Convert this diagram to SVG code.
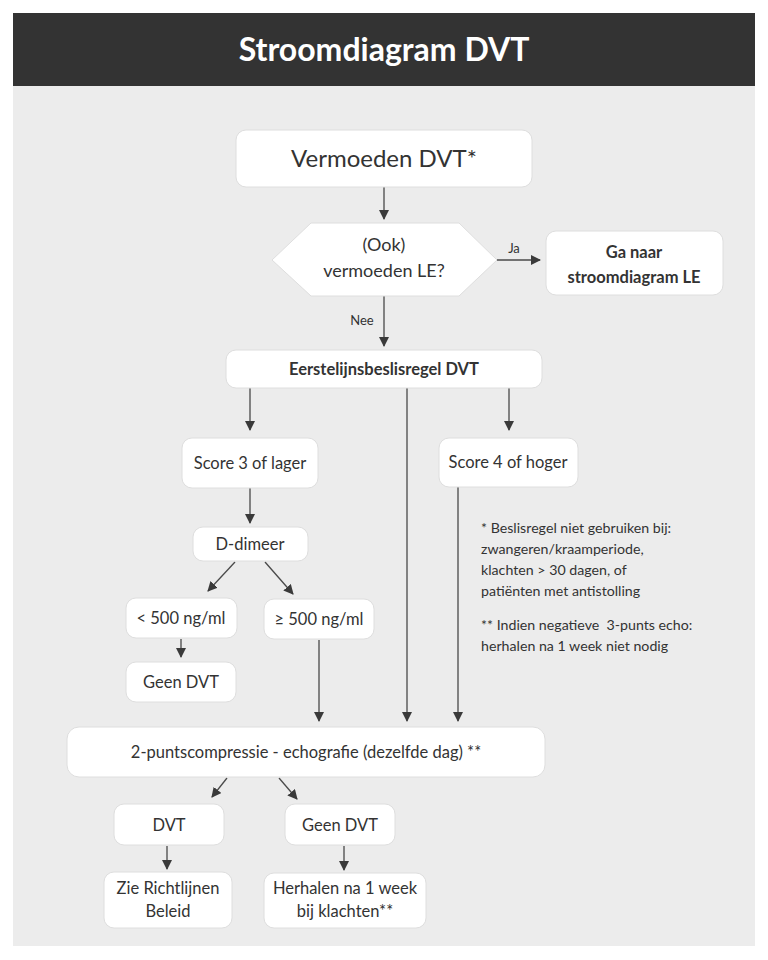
<svg xmlns="http://www.w3.org/2000/svg" width="768" height="960" viewBox="0 0 768 960">
<defs>
<marker id="ah" viewBox="0 0 10 10" refX="9" refY="5" markerWidth="10" markerHeight="10" markerUnits="userSpaceOnUse" orient="auto">
<path d="M0,0 L10,5 L0,10 z" fill="#3a3a3a"/>
</marker>
<style>
.box{fill:#ffffff;stroke:#dedede;stroke-width:1}
.t{font-family:Lato,"Open Sans","Liberation Sans",sans-serif;fill:#333333;text-anchor:middle}
.b{font-weight:bold}
.ln{stroke:#4a4a4a;stroke-width:1.3;fill:none}
.ar{stroke:#4a4a4a;stroke-width:1.3;fill:none;marker-end:url(#ah)}
.fn{font-family:Lato,"Open Sans","Liberation Sans",sans-serif;fill:#333333;font-size:14.2px;white-space:pre}
</style>
</defs>
<rect x="0" y="0" width="768" height="960" fill="#ffffff"/>
<rect x="13" y="86" width="742" height="860" fill="#ececec"/>
<g id="header">
<rect x="13" y="13" width="742" height="73" fill="#333333"/>
<text x="384" y="61" class="t b" style="fill:#ffffff;font-size:32px">Stroomdiagram DVT</text>
</g>
<g id="connectors">
<line class="ar" x1="384" y1="187" x2="384" y2="219"/>
<line class="ar" x1="497" y1="260" x2="540" y2="260"/>
<line class="ar" x1="384" y1="296" x2="384" y2="346"/>
<line class="ar" x1="250" y1="388" x2="250" y2="430"/>
<line class="ar" x1="509" y1="388" x2="509" y2="430"/>
<line class="ar" x1="407" y1="388" x2="407" y2="721"/>
<line class="ar" x1="250" y1="488" x2="250" y2="523"/>
<line class="ar" x1="235" y1="562" x2="208" y2="591"/>
<line class="ar" x1="265" y1="562" x2="293" y2="594"/>
<line class="ar" x1="181" y1="639" x2="181" y2="657"/>
<line class="ar" x1="319" y1="640" x2="319" y2="721"/>
<line class="ar" x1="458" y1="487" x2="458" y2="721"/>
<line class="ar" x1="227" y1="778" x2="212" y2="797"/>
<line class="ar" x1="279" y1="778" x2="297" y2="799"/>
<line class="ar" x1="167" y1="846" x2="167" y2="869"/>
<line class="ar" x1="344" y1="846" x2="344" y2="870"/>
<text x="514" y="253" class="t" style="font-size:13px">Ja</text>
<text x="362" y="325" class="t" style="font-size:13px">Nee</text>
</g>
<g id="n-vermoeden">
<rect class="box" x="236" y="130" width="296" height="57" rx="10"/>
<text x="384" y="167" class="t" style="font-size:24px">Vermoeden DVT*</text>
</g>
<g id="n-ook">
<polygon class="box" points="272,260 311,223 459,223 497,260 459,296 311,296"/>
<text x="384" y="251" class="t" style="font-size:18px">(Ook)</text>
<text x="384" y="277" class="t" style="font-size:18px">vermoeden LE?</text>
</g>
<g id="n-ganaar">
<rect class="box" x="546" y="231" width="177" height="64" rx="10"/>
<text x="634" y="258" class="t b" style="font-size:16.5px">Ga naar</text>
<text x="634" y="283" class="t b" style="font-size:16.5px">stroomdiagram LE</text>
</g>
<g id="n-eerste">
<rect class="box" x="226" y="350" width="316" height="38" rx="10"/>
<text x="384" y="375" class="t b" style="font-size:16.5px">Eerstelijnsbeslisregel DVT</text>
</g>
<g id="n-score3">
<rect class="box" x="182" y="438" width="136" height="50" rx="10"/>
<text x="250" y="469" class="t" style="font-size:16.5px">Score 3 of lager</text>
</g>
<g id="n-score4">
<rect class="box" x="439" y="438" width="139" height="49" rx="10"/>
<text x="508" y="468" class="t" style="font-size:16.5px">Score 4 of hoger</text>
</g>
<g id="n-ddimeer">
<rect class="box" x="193" y="527" width="115" height="34" rx="10"/>
<text x="250" y="550" class="t" style="font-size:16.5px">D-dimeer</text>
</g>
<g id="n-lt500">
<rect class="box" x="126" y="598" width="111" height="40" rx="10"/>
<text x="181" y="624" class="t" style="font-size:16.5px">&lt; 500 ng/ml</text>
</g>
<g id="n-ge500">
<rect class="box" x="264" y="599" width="110" height="40" rx="10"/>
<text x="319" y="625" class="t" style="font-size:16.5px">≥ 500 ng/ml</text>
</g>
<g id="n-geendvt1">
<rect class="box" x="126" y="662" width="110" height="40" rx="10"/>
<text x="181" y="688" class="t" style="font-size:16.5px">Geen DVT</text>
</g>
<g id="n-echo">
<rect class="box" x="67" y="727" width="478" height="50" rx="12"/>
<text x="306" y="758" class="t" style="font-size:16.5px">2-puntscompressie - echografie (dezelfde dag) **</text>
</g>
<g id="n-dvt">
<rect class="box" x="114" y="804" width="110" height="41" rx="10"/>
<text x="169" y="831" class="t" style="font-size:16.5px">DVT</text>
</g>
<g id="n-geendvt2">
<rect class="box" x="285" y="804" width="110" height="41" rx="10"/>
<text x="340" y="831" class="t" style="font-size:16.5px">Geen DVT</text>
</g>
<g id="n-zie">
<rect class="box" x="104" y="872" width="128" height="56" rx="10"/>
<text x="168" y="894" class="t" style="font-size:16.5px">Zie Richtlijnen</text>
<text x="168" y="917" class="t" style="font-size:16.5px">Beleid</text>
</g>
<g id="n-herhalen">
<rect class="box" x="264" y="873" width="162" height="55" rx="10"/>
<text x="345" y="894" class="t" style="font-size:16.5px">Herhalen na 1 week</text>
<text x="345" y="917" class="t" style="font-size:16.5px">bij klachten**</text>
</g>
<g id="footnotes">
<text x="481" y="533" class="fn">* Beslisregel niet gebruiken bij:</text>
<text x="481" y="554" class="fn">zwangeren/kraamperiode,</text>
<text x="481" y="575" class="fn">klachten &gt; 30 dagen, of</text>
<text x="481" y="596" class="fn">patiënten met antistolling</text>
<text x="481" y="630" class="fn">** Indien negatieve  3-punts echo:</text>
<text x="481" y="651" class="fn">herhalen na 1 week niet nodig</text>
</g>
</svg>
